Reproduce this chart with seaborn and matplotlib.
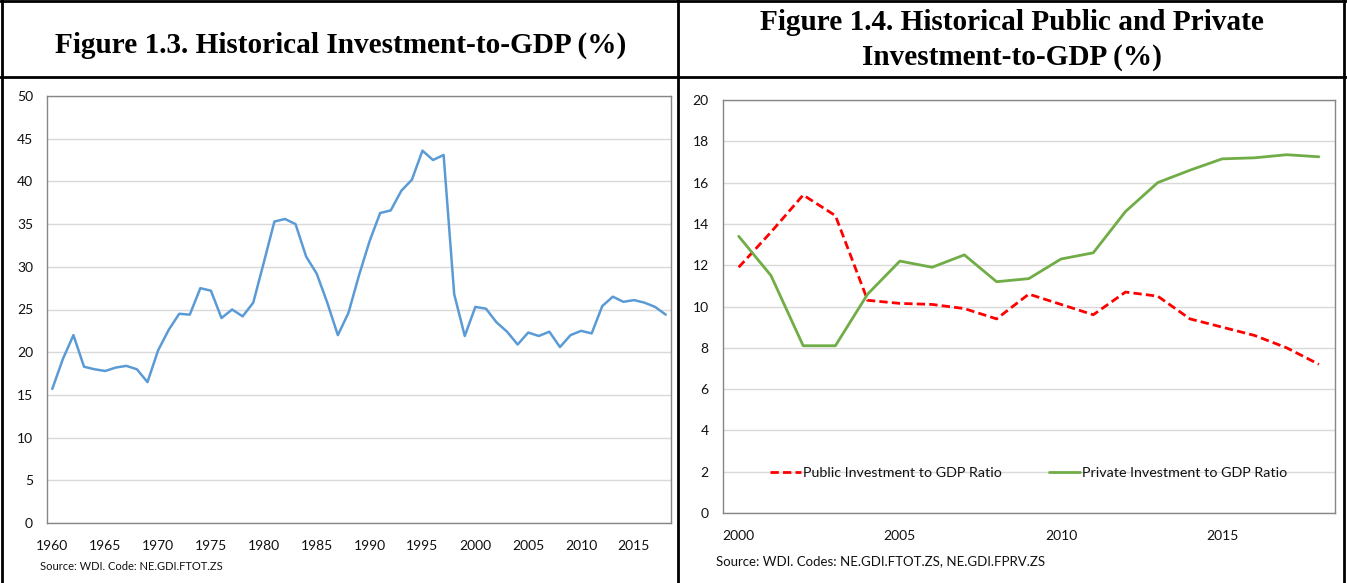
import numpy as np
import pandas as pd
import matplotlib
matplotlib.use("Agg")
import matplotlib.pyplot as plt
import seaborn as sns
from matplotlib.lines import Line2D

# ── DATA ─────────────────────────────────────────────────────
years_total = list(range(1960, 2019))
invest_total = [15.7, 19.2, 22.0, 18.3, 18.0, 17.8, 18.2, 18.4, 18.0, 16.5,
                20.2, 22.6, 24.5, 24.4, 27.5, 27.2, 24.0, 25.0, 24.2, 25.8,
                30.5, 35.3, 35.6, 35.0, 31.2, 29.2, 25.8, 22.0, 24.6, 29.0,
                33.0, 36.3, 36.6, 38.9, 40.2, 43.6, 42.5, 43.1, 26.8, 21.9,
                25.3, 25.1, 23.5, 22.4, 20.9, 22.3, 21.9, 22.4, 20.6, 22.0,
                22.5, 22.2, 25.4, 26.5, 25.9, 26.1, 25.8, 25.3, 24.4]

years_split = list(range(2000, 2019))
invest_public = [11.9, 13.6, 15.4, 14.4, 10.3, 10.15, 10.1, 9.9, 9.4, 10.6,
                 10.1, 9.6, 10.7, 10.5, 9.4, 9.0, 8.6, 8.0, 7.2]
invest_private = [13.4, 11.5, 8.1, 8.1, 10.6, 12.2, 11.9, 12.5, 11.2, 11.35,
                  12.3, 12.6, 14.6, 16.0, 16.6, 17.15, 17.2, 17.35, 17.25]

series_names = ["Public Investment to GDP Ratio", "Private Investment to GDP Ratio"]
title_left = "Figure 1.3. Historical Investment-to-GDP (%)"
title_right = "Figure 1.4. Historical Public and Private\nInvestment-to-GDP (%)"
source_left = "Source: WDI. Code: NE.GDI.FTOT.ZS"
source_right = "Source: WDI. Codes: NE.GDI.FTOT.ZS, NE.GDI.FPRV.ZS"

df_total = pd.DataFrame({"year": years_total, "value": invest_total})
df_split = pd.DataFrame({
    "year": years_split * 2,
    "value": invest_public + invest_private,
    "series": [series_names[0]] * len(years_split) + [series_names[1]] * len(years_split),
})

# ── STYLE ────────────────────────────────────────────────────
sns.set_style("white")
plt.rcParams["font.family"] = ["Lato", "DejaVu Sans"]
plt.rcParams["text.color"] = "#111111"
plt.rcParams["xtick.labelcolor"] = "#111111"
plt.rcParams["ytick.labelcolor"] = "#111111"

W, H = 1347, 583
fig = plt.figure(figsize=(W / 100, H / 100), dpi=100)

spine_col = "#868686"
grid_col = "#D9D9D9"


def style_axes(ax, xlo, xhi, ymax, ystep, xlabels_step):
    ax.set_xlim(xlo - 0.5, xhi + 0.5)
    ax.set_ylim(0, ymax)
    ax.set_yticks(np.arange(0, ymax + 0.1, ystep))
    ax.yaxis.grid(True, color=grid_col, linewidth=1)
    ax.set_axisbelow(True)
    ax.set_xticks(np.arange(xlo, xhi + 1, xlabels_step))
    ax.set_xticks(np.arange(xlo - 0.5, xhi + 0.51, 0.5), minor=True)
    ax.tick_params(axis="x", which="major", length=0, pad=12, labelsize=10)
    ax.tick_params(axis="x", which="minor", direction="in", length=4, width=0.8, color=spine_col)
    ax.tick_params(axis="y", length=0, pad=10, labelsize=10)
    for s in ax.spines.values():
        s.set_color(spine_col)
        s.set_linewidth(1.0)
    ax.set_xlabel("")
    ax.set_ylabel("")


# ── LEFT CHART ───────────────────────────────────────────────
ax1 = fig.add_axes([47 / W, 1 - 523 / H, 624 / W, 427 / H])
sns.lineplot(data=df_total, x="year", y="value", ax=ax1, color="#5B9BD5", linewidth=1.8)
style_axes(ax1, 1960, 2018, 50, 5, 5)

# ── RIGHT CHART ──────────────────────────────────────────────
ax2 = fig.add_axes([722.6 / W, 1 - 513 / H, 612.4 / W, 413 / H])
sns.lineplot(data=df_split, x="year", y="value", hue="series", style="series",
             palette=["#FF0000", "#70AD47"],
             dashes={series_names[0]: (3, 1.5), series_names[1]: ""},
             linewidth=2.0, ax=ax2)
style_axes(ax2, 2000, 2018, 20, 2, 5)
leg = ax2.legend(loc="center", bbox_to_anchor=(0.499, 0.097), ncol=2, frameon=False,
                 fontsize=10.3, handlelength=2.2, handletextpad=0.1, columnspacing=3.3)
leg.set_title(None)

# ── TITLES / SOURCES ─────────────────────────────────────────
fig.text(341 / W, 1 - 45 / H, title_left, ha="center", va="center", color="black",
         family="Liberation Serif", fontweight="bold", fontsize=21.1)
fig.text(1012 / W, 1 - 40 / H, title_right, ha="center", va="center", color="black",
         family="Liberation Serif", fontweight="bold", fontsize=21.1, linespacing=1.4)
fig.text(40 / W, 1 - 567 / H, source_left, ha="left", va="center", fontsize=8)
fig.text(716 / W, 1 - 561 / H, source_right, ha="left", va="center", fontsize=9.5)

# ── TABLE BORDERS ────────────────────────────────────────────
bw = 2.0
for xs, ys in [((2, 2), (0, H)), ((678, 678), (0, H)), ((1344, 1344), (0, H)),
               ((0, W), (1, 1)), ((0, W), (77, 77))]:
    fig.add_artist(Line2D([x / W for x in xs], [1 - y / H for y in ys],
                          color="black", linewidth=bw, transform=fig.transFigure))

fig.savefig("out.png", dpi=100)
